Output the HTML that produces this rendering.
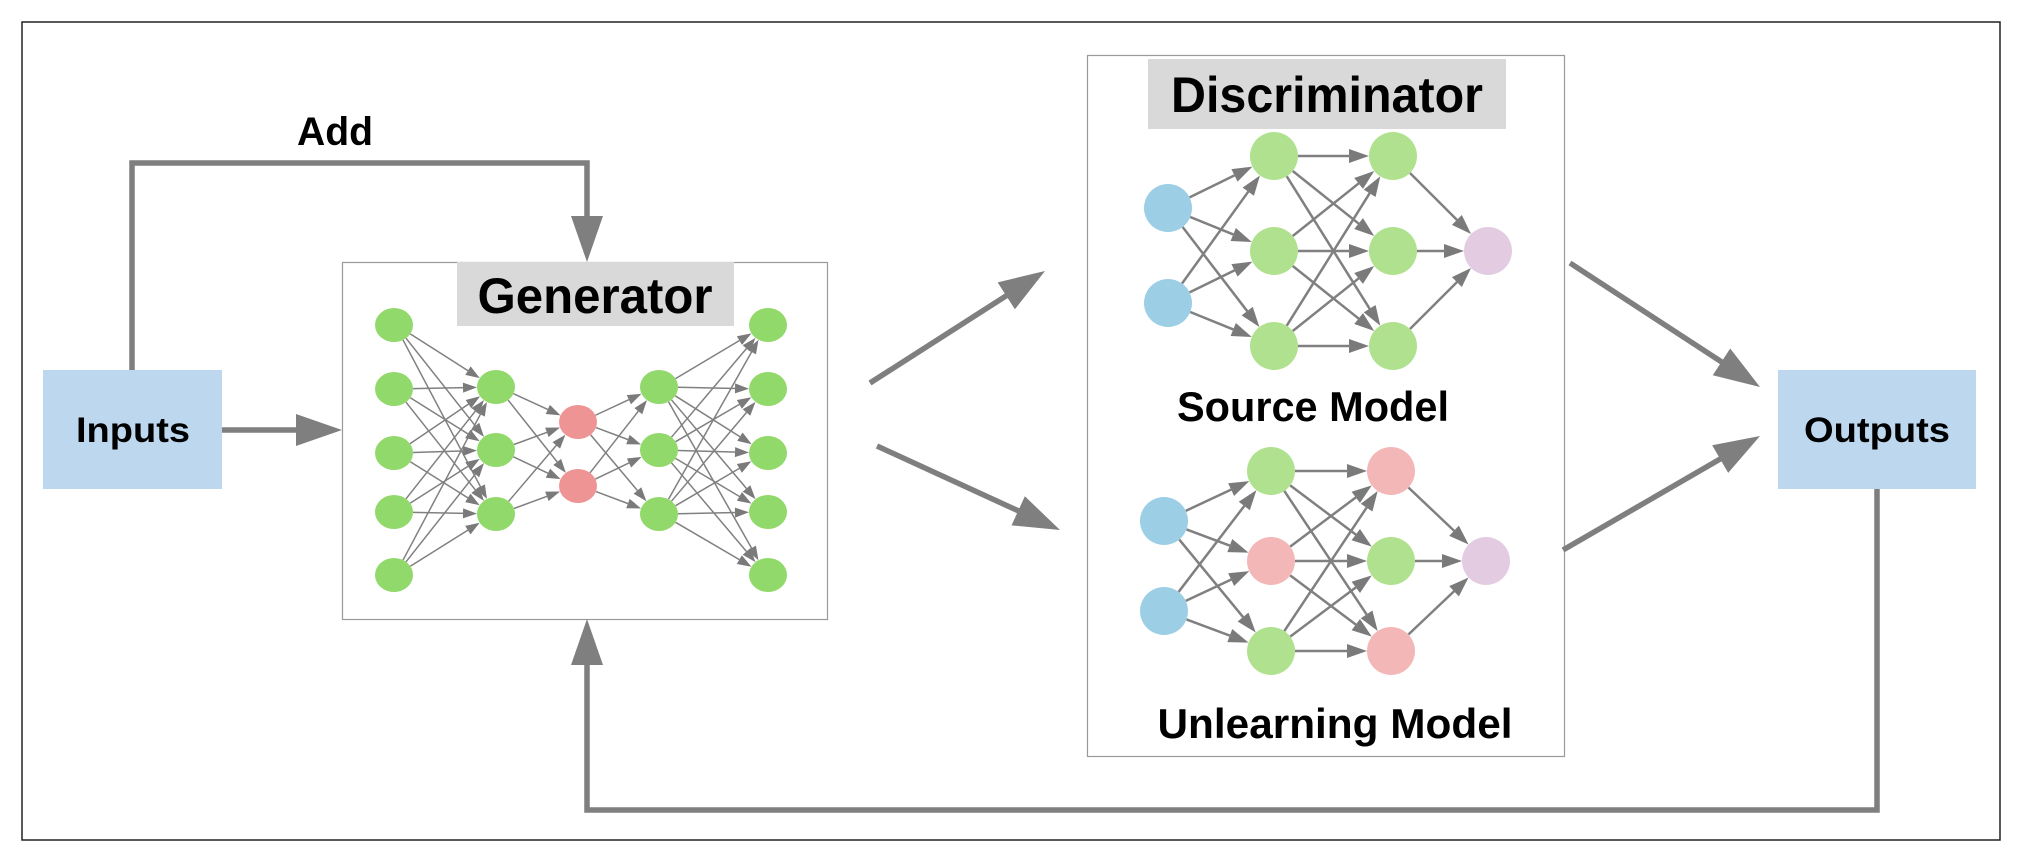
<!DOCTYPE html>
<html><head><meta charset="utf-8"><style>
html,body{margin:0;padding:0;background:#fff;}
svg{display:block;}
text{font-family:"Liberation Sans",sans-serif;font-weight:bold;fill:#000;}
</style></head><body>
<svg id="s" width="2022" height="860" viewBox="0 0 2022 860" xmlns="http://www.w3.org/2000/svg">
<rect x="22" y="22" width="1978" height="818" fill="#fff" stroke="#222" stroke-width="1.5"/>
<rect x="43" y="370" width="179" height="119" fill="#bdd7ee"/>
<rect x="1778" y="370" width="198" height="119" fill="#bdd7ee"/>
<rect x="342.5" y="262.5" width="485" height="357" fill="#fff" stroke="#999" stroke-width="1.2"/>
<rect x="457" y="262" width="277" height="64" fill="#d9d9d9"/>
<rect x="1087.5" y="55.5" width="477" height="701" fill="#fff" stroke="#999" stroke-width="1.2"/>
<rect x="1148" y="59" width="358" height="70" fill="#d9d9d9"/>
<g id="net"></g>
<g id="arr" fill="#7f7f7f" stroke="#7f7f7f"></g>
<text x="335" y="145" text-anchor="middle" font-size="40" textLength="76" lengthAdjust="spacingAndGlyphs">Add</text>
<text x="595" y="313" text-anchor="middle" font-size="50" textLength="235" lengthAdjust="spacingAndGlyphs">Generator</text>
<text x="133" y="442" text-anchor="middle" font-size="35" textLength="114" lengthAdjust="spacingAndGlyphs">Inputs</text>
<text x="1877" y="442" text-anchor="middle" font-size="35" textLength="146" lengthAdjust="spacingAndGlyphs">Outputs</text>
<text x="1327" y="112" text-anchor="middle" font-size="50" textLength="312" lengthAdjust="spacingAndGlyphs">Discriminator</text>
<text x="1313" y="421" text-anchor="middle" font-size="42" textLength="272" lengthAdjust="spacingAndGlyphs">Source Model</text>
<text x="1335" y="738" text-anchor="middle" font-size="42" textLength="355" lengthAdjust="spacingAndGlyphs">Unlearning Model</text>
</svg>
<script>
var NS="http://www.w3.org/2000/svg";
function el(p,t,a){var e=document.createElementNS(NS,t);for(var k in a)e.setAttribute(k,a[k]);p.appendChild(e);return e;}
var net=document.getElementById('net'),arr=document.getElementById('arr');
function head(g,x1,y1,x2,y2,L,W,col){var dx=x2-x1,dy=y2-y1,d=Math.hypot(dx,dy),ux=dx/d,uy=dy/d;
 var bx=x2-ux*L,by=y2-uy*L;
 el(g,'polygon',{points:x2+','+y2+' '+(bx-uy*W/2)+','+(by+ux*W/2)+' '+(bx+uy*W/2)+','+(by-ux*W/2),fill:col,stroke:'none'});
 return [bx+ux*2,by+uy*2];}
function bigArrow(pts){var n=pts.length;var a=pts[n-2],b=pts[n-1];
 var e=head(arr,a[0],a[1],b[0],b[1],46,32,'#7f7f7f');
 var d='M'+pts[0][0]+' '+pts[0][1];for(var i=1;i<n-1;i++)d+=' L'+pts[i][0]+' '+pts[i][1];d+=' L'+e[0]+' '+e[1];
 el(arr,'path',{d:d,fill:'none','stroke-width':5.5,'stroke-linejoin':'miter'});}
bigArrow([[132,370],[132,163],[587,163],[587,262]]);
bigArrow([[222,430],[342,430]]);
bigArrow([[1877,489],[1877,810],[587,810],[587,619]]);
bigArrow([[870,383],[1045,271]]);
bigArrow([[877,446],[1060,530]]);
bigArrow([[1570,263],[1760,387]]);
bigArrow([[1563,550],[1760,436]]);
function network(layers,rx,ry,lw,hl,hw){
 var eg=el(net,'g',{}),ng=el(net,'g',{});
 for(var l=0;l<layers.length-1;l++){var A=layers[l],B=layers[l+1];
  A.nodes.forEach(function(p){B.nodes.forEach(function(q){
   var x1=A.x,y1=p[0],x2=B.x,y2=q[0],dx=x2-x1,dy=y2-y1,d=Math.hypot(dx,dy),ux=dx/d,uy=dy/d;
   var sx=x1+ux*rx,sy=y1+uy*ry,tx=x2-ux*rx,ty=y2-uy*ry;
   var e=head(eg,sx,sy,tx,ty,hl,hw,'#7a7a7a');
   el(eg,'line',{x1:sx,y1:sy,x2:e[0],y2:e[1],stroke:'#808080','stroke-width':lw});
  });});}
 layers.forEach(function(L){L.nodes.forEach(function(p){el(ng,'ellipse',{cx:L.x,cy:p[0],rx:rx,ry:ry,fill:p[1]});});});
}
var G='#90d96a',R='#ef9494';
network([{x:394,nodes:[[325,G],[389,G],[453,G],[512,G],[575,G]]},
 {x:496,nodes:[[387,G],[450,G],[514,G]]},
 {x:578,nodes:[[422,R],[486,R]]},
 {x:659,nodes:[[387,G],[450,G],[514,G]]},
 {x:768,nodes:[[325,G],[389,G],[453,G],[512,G],[575,G]]}],19,17,1.5,14,10);
var B='#9ccee6',g='#b0e18f',r='#f4b7b7',P='#e3cce1';
network([{x:1168,nodes:[[208,B],[303,B]]},
 {x:1274,nodes:[[156,g],[251,g],[346,g]]},
 {x:1393,nodes:[[156,g],[251,g],[346,g]]},
 {x:1488,nodes:[[251,P]]}],24,24,2.5,20,14);
network([{x:1164,nodes:[[521,B],[611,B]]},
 {x:1271,nodes:[[471,g],[561,r],[651,g]]},
 {x:1391,nodes:[[471,r],[561,g],[651,r]]},
 {x:1486,nodes:[[561,P]]}],24,24,2.5,20,14);
</script>
</body></html>
